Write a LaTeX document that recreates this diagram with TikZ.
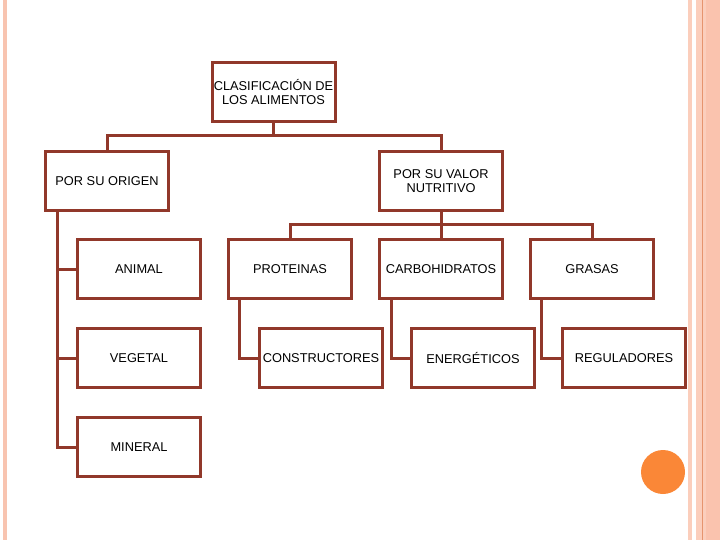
\documentclass[tikz,border=0pt]{standalone}
\usepackage{fontspec}
\setmainfont{Liberation Sans}
\usetikzlibrary{calc}
\definecolor{boxred}{RGB}{145,56,42}
\definecolor{stripe}{RGB}{248,196,176}
\definecolor{stripeB}{RGB}{251,206,188}
\definecolor{stripeC}{RGB}{250,195,174}
\definecolor{stripeLine}{RGB}{230,148,110}
\definecolor{dot}{RGB}{250,135,55}
\tikzset{
  boxnode/.style={draw=boxred, line width=3pt, fill=white, rectangle,
    minimum width=123pt, minimum height=59pt, inner sep=0pt, align=center,
    font=\fontsize{12.8}{14}\selectfont},
  conn/.style={draw=boxred, line width=3pt}
}
\begin{document}
\begin{tikzpicture}[x=1pt,y=-1pt]
\useasboundingbox (0,0) rectangle (720,540);
% page decorations
\fill[stripe] (2.7,0) rectangle (6.7,540);
\fill[stripeB] (688,0) rectangle (692,540);
\fill[stripeB] (696,0) rectangle (720,540);
\fill[stripeC] (706,0) rectangle (720,540);
\draw[stripeLine, line width=0.8pt] (702.3,0) -- (702.3,540);
\fill[dot] (663,472) circle (22);
% nodes
\node[boxnode] (top) at (273.5,92) {CLASIFICACIÓN DE\\LOS ALIMENTOS};
\node[boxnode] (origen) at (107,181) {POR SU ORIGEN};
\node[boxnode] (valor) at (441,181) {POR SU VALOR\\NUTRITIVO};
\node[boxnode] (animal) at (139,269) {ANIMAL};
\node[boxnode] (vegetal) at (139,358) {VEGETAL};
\node[boxnode] (mineral) at (139,447) {MINERAL};
\node[boxnode] (prot) at (290,269) {PROTEINAS};
\node[boxnode] (carb) at (441,269) {CARBOHIDRATOS};
\node[boxnode] (gras) at (592,269) {GRASAS};
\node[boxnode] (cons) at (321,358) {CONSTRUCTORES};
\node[boxnode] (ener) at (473,358) {ENERGÉTICOS};
\node[boxnode] (regu) at (624,358) {REGULADORES};
% connectors
\coordinate (j1) at (273.5,136);
\coordinate (j2) at (441,225);
\path[conn] (top.south) -- (j1);
\path[conn] (origen.north) |- (j1) -| (valor.north);
\path[conn] (valor.south) -- (j2);
\path[conn] (prot.north) |- (j2) -| (gras.north);
\path[conn] (j2) -- (carb.north);
\path[conn] ([xshift=13.5pt]origen.south west) |- (animal.west);
\path[conn] ([xshift=13.5pt]origen.south west) |- (vegetal.west);
\path[conn] ([xshift=13.5pt]origen.south west) |- (mineral.west);
\path[conn] ([xshift=12.5pt]prot.south west) |- (cons.west);
\path[conn] ([xshift=13.5pt]carb.south west) |- (ener.west);
\path[conn] ([xshift=12.5pt]gras.south west) |- (regu.west);
\end{tikzpicture}
\end{document}
